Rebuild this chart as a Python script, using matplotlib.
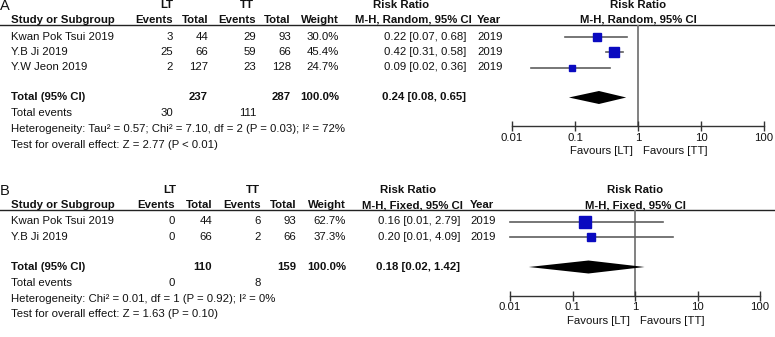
import numpy as np
import matplotlib
matplotlib.use("Agg")
import matplotlib.pyplot as plt

plt.rcParams['font.family'] = ['Liberation Sans', 'DejaVu Sans']

# ---- data: panel A (random effects) ----
a_studies = ["Kwan Pok Tsui 2019", "Y.B Ji 2019", "Y.W Jeon 2019"]
a_lt_events = [3, 25, 2]
a_lt_total = [44, 66, 127]
a_tt_events = [29, 59, 23]
a_tt_total = [93, 66, 128]
a_weight = [30.0, 45.4, 24.7]
a_rr = [0.22, 0.42, 0.09]
a_lo = [0.07, 0.31, 0.02]
a_hi = [0.68, 0.58, 0.36]
a_year = [2019, 2019, 2019]
a_total = dict(lt_total=237, tt_total=287, lt_events=30, tt_events=111,
               rr=0.24, lo=0.08, hi=0.65)
a_method = "M-H, Random, 95% CI"
a_het = "Heterogeneity: Tau\u00b2 = 0.57; Chi\u00b2 = 7.10, df = 2 (P = 0.03); I\u00b2 = 72%"
a_test = "Test for overall effect: Z = 2.77 (P < 0.01)"

# ---- data: panel B (fixed effect) ----
b_studies = ["Kwan Pok Tsui 2019", "Y.B Ji 2019"]
b_lt_events = [0, 0]
b_lt_total = [44, 66]
b_tt_events = [6, 2]
b_tt_total = [93, 66]
b_weight = [62.7, 37.3]
b_rr = [0.16, 0.20]
b_lo = [0.01, 0.01]
b_hi = [2.79, 4.09]
b_year = [2019, 2019]
b_total = dict(lt_total=110, tt_total=159, lt_events=0, tt_events=8,
               rr=0.18, lo=0.02, hi=1.42)
b_method = "M-H, Fixed, 95% CI"
b_het = "Heterogeneity: Chi\u00b2 = 0.01, df = 1 (P = 0.92); I\u00b2 = 0%"
b_test = "Test for overall effect: Z = 1.63 (P = 0.10)"

ticks = [0.01, 0.1, 1, 10, 100]
tick_labels = ["0.01", "0.1", "1", "10", "100"]

W, H = 775, 337
FS = 8.2
fig = plt.figure(figsize=(W / 100, H / 100), dpi=100)
ov = fig.add_axes([0, 0, 1, 1])
ov.set_xlim(0, W)
ov.set_ylim(H, 0)
ov.axis("off")


def t(x, y, s, ha="left", bold=False, size=FS):
    ov.text(x, y, s, ha=ha, va="center", fontsize=size,
            fontweight="bold" if bold else "normal", color="#111111")


def px_axes(x0, x1, y0, y1):
    return fig.add_axes([x0 / W, 1 - y1 / H, (x1 - x0) / W, (y1 - y0) / H])


def fmt_ci(r, l, h):
    return f"{r:.2f} [{l:.2f}, {h:.2f}]"


def panel(letter, top, cols, grp_x, studies, lte, ltt, tte, ttt, wt, rr, lo,
          hi, yr, tot, method, het, test, fx0, fx1):
    # cols: lt_ev, lt_tot, tt_ev, tt_tot, weight, ci_right, year_left, rr_left
    c_lte, c_ltt, c_tte, c_ttt, c_w, c_ci, c_yr, c_rr = cols
    fmid = (fx0 + fx1) / 2
    t(0, top + 1, letter, size=10.5)
    t(grp_x[0], top, "LT", ha="center", bold=True)
    t(grp_x[1], top, "TT", ha="center", bold=True)
    t(c_rr + 18, top, "Risk Ratio", bold=True)
    t(fmid, top, "Risk Ratio", ha="center", bold=True)
    hy = top + 15
    t(11, hy, "Study or Subgroup", bold=True)
    t(c_lte, hy, "Events", ha="right", bold=True)
    t(c_ltt, hy, "Total", ha="right", bold=True)
    t(c_tte, hy, "Events", ha="right", bold=True)
    t(c_ttt, hy, "Total", ha="right", bold=True)
    t(c_w, hy, "Weight", ha="right", bold=True)
    t(c_rr, hy, method, bold=True)
    t(c_yr, hy, "Year", bold=True)
    t(fmid, hy, method, ha="center", bold=True)
    line_y = hy + 4.5
    ov.plot([0, W], [line_y, line_y], color="#222222", lw=1.0)

    rows = [line_y + 12 + 15.5 * i for i in range(len(studies))]
    for i, y in enumerate(rows):
        t(11, y, studies[i])
        t(c_lte, y, str(lte[i]), ha="right")
        t(c_ltt, y, str(ltt[i]), ha="right")
        t(c_tte, y, str(tte[i]), ha="right")
        t(c_ttt, y, str(ttt[i]), ha="right")
        t(c_w, y, f"{wt[i]:.1f}%", ha="right")
        t(c_ci, y, fmt_ci(rr[i], lo[i], hi[i]), ha="right")
        t(c_yr, y, str(yr[i]))
    ty = rows[-1] + 30
    t(11, ty, "Total (95% CI)", bold=True)
    t(c_ltt, ty, str(tot["lt_total"]), ha="right", bold=True)
    t(c_ttt, ty, str(tot["tt_total"]), ha="right", bold=True)
    t(c_w, ty, "100.0%", ha="right", bold=True)
    t(c_ci, ty, fmt_ci(tot["rr"], tot["lo"], tot["hi"]), ha="right", bold=True)
    t(11, ty + 16, "Total events")
    t(c_lte, ty + 16, str(tot["lt_events"]), ha="right")
    t(c_tte, ty + 16, str(tot["tt_events"]), ha="right")
    t(11, ty + 31.5, het)
    t(11, ty + 47, test)

    axis_y = ty + 28.5
    ax = px_axes(fx0, fx1, line_y, axis_y)
    ax.set_xscale("log")
    ax.set_xlim(0.01, 100)
    ax.set_ylim(axis_y, line_y)
    ax.patch.set_alpha(0)
    for s in ["top", "left", "right"]:
        ax.spines[s].set_visible(False)
    ax.spines["bottom"].set_color("#333333")
    ax.spines["bottom"].set_linewidth(1.0)
    ax.set_xticks(ticks)
    ax.set_xticklabels(tick_labels)
    ax.minorticks_off()
    ax.set_yticks([])
    ax.tick_params(axis="x", direction="inout", length=7, width=1.0,
                   color="#333333", labelsize=FS, pad=1.5, labelcolor="#111111")
    ax.axvline(1, color="#777777", lw=1.3, zorder=1)
    for i, y in enumerate(rows):
        ax.plot([lo[i], hi[i]], [y, y], color="#5f5f5f", lw=1.2, zorder=2,
                clip_on=False)
        side_px = 3.3 + 0.13 * wt[i]
        ax.plot([rr[i]], [y], marker="s", ms=side_px * 0.72, color="#0a0ac0",
                mec="#0a0ac0", zorder=3, clip_on=False)
    ax.fill([tot["lo"], tot["rr"], tot["hi"], tot["rr"]],
            [ty, ty - 6.5, ty, ty + 6.5], color="black", zorder=3,
            clip_on=False, lw=0)
    fav_y = axis_y + 25
    t(fmid - 5, fav_y, "Favours [LT]", ha="right")
    t(fmid + 5, fav_y, "Favours [TT]")


panel("A", 5, (173, 208, 256, 291, 339, 466, 477, 355), (167, 247),
      a_studies, a_lt_events, a_lt_total, a_tt_events, a_tt_total, a_weight,
      a_rr, a_lo, a_hi, a_year, a_total, a_method, a_het, a_test, 512, 764)

panel("B", 190, (175, 212, 261, 296, 346, 460, 470, 362), (170, 253),
      b_studies, b_lt_events, b_lt_total, b_tt_events, b_tt_total, b_weight,
      b_rr, b_lo, b_hi, b_year, b_total, b_method, b_het, b_test, 510, 760)

fig.savefig("out.png", dpi=100, facecolor="white")
